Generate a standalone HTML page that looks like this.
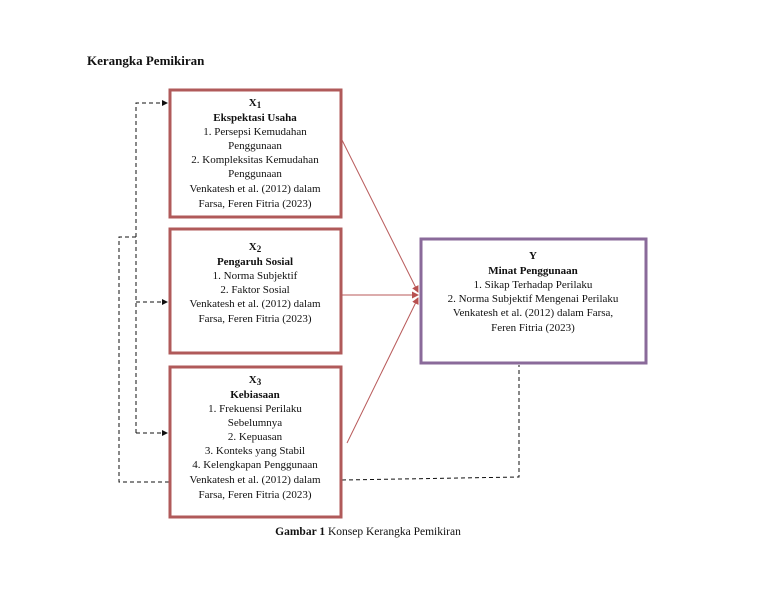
<!DOCTYPE html>
<html><head><meta charset="utf-8"><style>
body{margin:0;background:#fff;}
svg{display:block;font-family:"Liberation Serif",serif;}
text{font-size:11px;fill:#111;text-anchor:middle;}
.b{font-weight:bold;}
</style></head><body>
<svg width="763" height="600" viewBox="0 0 763 600">
<defs>
<marker id="ah" markerWidth="6" markerHeight="6" refX="5" refY="3" orient="auto"><path d="M0,0 L6,3 L0,6 z" fill="#111"/></marker>
<marker id="rh" markerWidth="7" markerHeight="7" refX="6" refY="3.5" orient="auto"><path d="M0,0 L7,3.5 L0,7 z" fill="#b85050"/></marker>
</defs>
<text x="87" y="65" class="b" style="font-size:13px;text-anchor:start">Kerangka Pemikiran</text>

<g stroke="#111" stroke-width="1" fill="none" stroke-dasharray="4,3">
<polyline points="136,433 136,103 167,103" marker-end="url(#ah)"/>
<line x1="136" y1="302" x2="167" y2="302" marker-end="url(#ah)"/>
<line x1="136" y1="433" x2="167" y2="433" marker-end="url(#ah)"/>
<polyline points="136,237 119,237 119,482 169,482"/>
<polyline points="342,480 519,477 519,365"/>
</g>

<g stroke="#b85a5a" stroke-width="1" fill="none">
<line x1="342" y1="140" x2="418" y2="292" marker-end="url(#rh)"/>
<line x1="342" y1="295" x2="418" y2="295" marker-end="url(#rh)"/>
<line x1="347" y1="443" x2="418" y2="298" marker-end="url(#rh)"/>
</g>

<g fill="#fff" stroke="#b05a5a" stroke-width="3">
<rect x="170" y="90" width="171" height="127"/>
<rect x="170" y="229" width="171" height="124"/>
<rect x="170" y="367" width="171" height="150"/>
</g>
<rect x="421" y="239" width="225" height="124" fill="#fff" stroke="#8a6a9a" stroke-width="3"/>

<text x="255" y="106" class="b">X<tspan style="font-size:9px" dy="2">1</tspan></text>
<text x="255" y="121" class="b">Ekspektasi Usaha</text>
<text x="255" y="135">1. Persepsi Kemudahan</text>
<text x="255" y="149">Penggunaan</text>
<text x="255" y="163">2. Kompleksitas Kemudahan</text>
<text x="255" y="177">Penggunaan</text>
<text x="255" y="192">Venkatesh et al. (2012) dalam</text>
<text x="255" y="207">Farsa, Feren Fitria  (2023)</text>

<text x="255" y="250" class="b">X<tspan style="font-size:9px" dy="2">2</tspan></text>
<text x="255" y="265" class="b">Pengaruh Sosial</text>
<text x="255" y="279">1. Norma Subjektif</text>
<text x="255" y="293">2. Faktor Sosial</text>
<text x="255" y="307">Venkatesh et al. (2012) dalam</text>
<text x="255" y="322">Farsa, Feren Fitria  (2023)</text>

<text x="255" y="383" class="b">X<tspan style="font-size:9px" dy="2">3</tspan></text>
<text x="255" y="398" class="b">Kebiasaan</text>
<text x="255" y="412">1. Frekuensi Perilaku</text>
<text x="255" y="426">Sebelumnya</text>
<text x="255" y="440">2. Kepuasan</text>
<text x="255" y="454">3. Konteks yang Stabil</text>
<text x="255" y="468">4. Kelengkapan Penggunaan</text>
<text x="255" y="483">Venkatesh et al. (2012) dalam</text>
<text x="255" y="498">Farsa, Feren Fitria  (2023)</text>

<text x="533" y="259" class="b">Y</text>
<text x="533" y="274" class="b">Minat Penggunaan</text>
<text x="533" y="288">1. Sikap Terhadap Perilaku</text>
<text x="533" y="302">2. Norma Subjektif Mengenai Perilaku</text>
<text x="533" y="316">Venkatesh et al. (2012) dalam Farsa,</text>
<text x="533" y="331">Feren Fitria  (2023)</text>

<text x="368" y="535" style="font-size:11.5px"><tspan class="b">Gambar 1</tspan> Konsep Kerangka Pemikiran</text>
</svg>
</body></html>
